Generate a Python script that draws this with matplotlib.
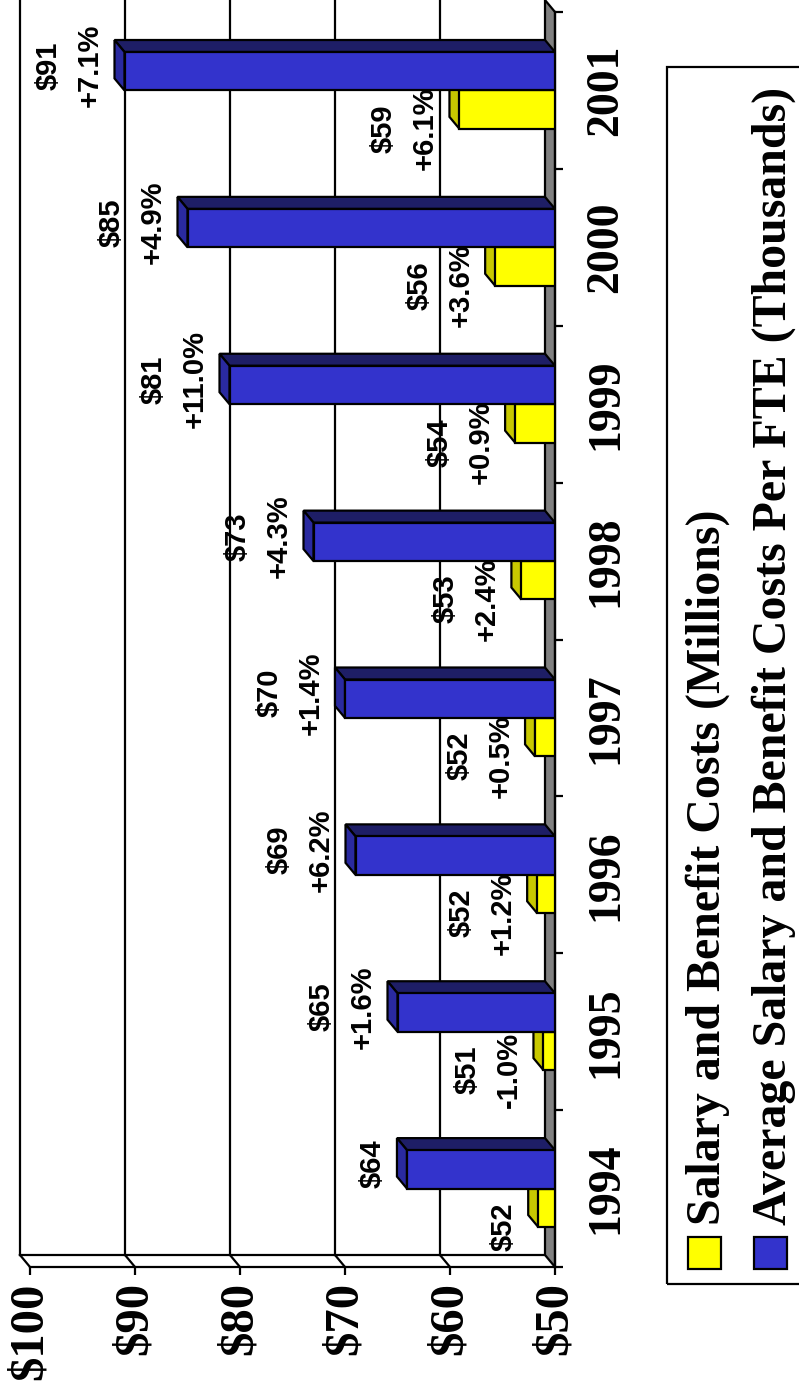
import numpy as np
import matplotlib
matplotlib.use("Agg")
import matplotlib.pyplot as plt
from matplotlib.patches import Polygon, Rectangle

plt.rcParams["text.parse_math"] = False

years = [1994, 1995, 1996, 1997, 1998, 1999, 2000, 2001]
salary_m = [51.6, 51.1, 51.7, 51.9, 53.2, 53.8, 55.7, 59.1]          # Salary and Benefit Costs (Millions)
salary_chg = [None, -1.0, 1.2, 0.5, 2.4, 0.9, 3.6, 6.1]
per_fte_k = [64.1, 65.0, 69.0, 70.0, 73.0, 81.0, 85.0, 91.0]         # Average ... Per FTE (Thousands)
per_fte_chg = [None, 1.6, 6.2, 1.4, 4.3, 11.0, 4.9, 7.1]
value_ticks = [50, 60, 70, 80, 90, 100]
series_names = ["Salary and Benefit Costs (Millions)",
                "Average Salary and Benefit Costs Per FTE (Thousands)"]

YEL, YEL_SIDE, YEL_TOP = "#FFFF00", "#C8C800", "#808000"
BLU, BLU_SIDE, BLU_TOP = "#3333CC", "#2A2AA0", "#1E1E66"
FLOOR = "#808080"
SERIF = "Liberation Serif"
SANS = "Liberation Sans"
LW = 1.6

W, H = 799, 1385
fig = plt.figure(figsize=(W / 100, H / 100), dpi=100)
ax = fig.add_axes([30 / W, 118 / H, 525 / W, 1255 / H])
ax.set_xlim(100, 50)
ax.set_ylim(-0.5, 7.5)
base = 50
# 3-D depth offset in data units (10 px left, 12 px up)
DX = 10 / 10.5
DY = 12 / 156.875
BW = 0.245

# back wall + floor
ax.add_patch(Polygon([(base, -0.5), (base, 7.5), (base + DX, 7.5 + DY), (base + DX, -0.5 + DY)],
                     closed=True, fc=FLOOR, ec="k", lw=LW, zorder=0.6, clip_on=False))
for v in value_ticks[1:]:
    ax.plot([v + DX, v + DX], [-0.5 + DY, 7.5 + DY], color="k", lw=LW, zorder=0.5, clip_on=False)
    ax.plot([v, v + DX], [-0.5, -0.5 + DY], color="k", lw=LW, zorder=0.5, clip_on=False)
ax.plot([base + DX, 100 + DX], [-0.5 + DY, -0.5 + DY], color="k", lw=LW, zorder=0.5, clip_on=False)


def bar3d(y0, v, front, side, top):
    y1 = y0 + BW
    ax.add_patch(Polygon([(v, y1), (base, y1), (base + DX, y1 + DY), (v + DX, y1 + DY)],
                         closed=True, fc=top, ec="k", lw=LW, zorder=3))
    ax.add_patch(Polygon([(v, y0), (v, y1), (v + DX, y1 + DY), (v + DX, y0 + DY)],
                         closed=True, fc=side, ec="k", lw=LW, zorder=3))
    ax.barh(y0, v - base, left=base, height=BW, align="edge", color=front,
            edgecolor="k", lw=LW, zorder=3)


def label(v, yc, val, chg):
    txt = "$%.0f" % val
    if chg is not None:
        txt += "\n%+.1f%%" % chg
    ax.text(v + DX + 1.0, yc, txt, rotation=90, rotation_mode="anchor", ha="center",
            va="bottom", fontsize=21, fontweight="bold", family=SANS, linespacing=1.6, zorder=5)


y = np.arange(len(years))
for i in y:
    bar3d(i - BW, salary_m[i], YEL, YEL_SIDE, YEL_TOP)
    bar3d(i, per_fte_k[i], BLU, BLU_SIDE, BLU_TOP)
for i in y:
    label(salary_m[i], i - BW / 2 - 0.12, salary_m[i], salary_chg[i])
    label(per_fte_k[i], i + BW / 2 + 0.035, per_fte_k[i], per_fte_chg[i])

# axes
for s in ["top", "left"]:
    ax.spines[s].set_visible(False)
for s in ["bottom", "right"]:
    ax.spines[s].set_linewidth(LW)
ax.set_xticks(value_ticks)
ax.set_xticklabels(["$%d" % t for t in value_ticks], rotation=90, fontsize=35,
                   fontweight="bold", family=SERIF)
ax.tick_params(axis="x", length=6, width=LW, direction="out", pad=5)
ax.yaxis.tick_right()
ax.set_yticks(y)
ax.set_yticks(np.arange(-0.5, len(years), 1), minor=True)
ax.set_yticklabels([str(t) for t in years], rotation=90, va="center", fontsize=33,
                   fontweight="bold", family=SERIF)
ax.tick_params(axis="y", which="major", length=0, pad=22)
ax.tick_params(axis="y", which="minor", length=6, width=LW, direction="out")


# legend (drawn by hand so the text can be rotated)
def fp(px, py):
    return px / W, 1 - py / H


fig.add_artist(Rectangle(fp(667, 1284), (W + 20 - 667) / W, (1284 - 67) / H, fill=False,
                         ec="k", lw=LW, transform=fig.transFigure))
for k, (col, name) in enumerate(zip([YEL, BLU], series_names)):
    x0 = 688 + k * 66
    fig.add_artist(Rectangle(fp(x0, 1269), 33 / W, 32 / H, fc=col, ec="k", lw=LW,
                             transform=fig.transFigure))
    fig.text(*fp(x0 + 32, 1225), name, rotation=90, rotation_mode="anchor", ha="left",
             va="baseline", fontsize=34.5, fontweight="bold", family=SERIF)

fig.savefig("out.png", dpi=100)
